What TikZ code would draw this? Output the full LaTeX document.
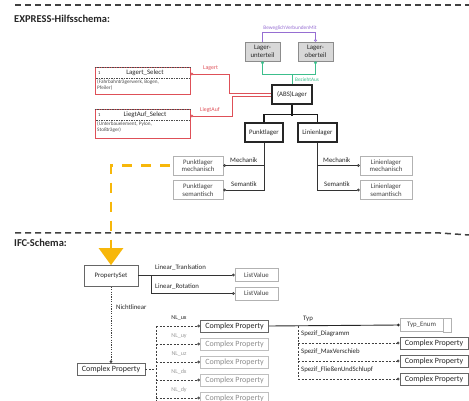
\documentclass[tikz,border=0pt]{standalone}
\usepackage{fontspec}
\setmainfont{Carlito}
\usetikzlibrary{arrows.meta}
\definecolor{redc}{RGB}{222,80,88}
\definecolor{violc}{RGB}{150,110,210}
\definecolor{grnc}{RGB}{60,190,140}
\definecolor{yelc}{RGB}{247,183,10}
\definecolor{boxgray}{RGB}{216,216,216}
\begin{document}
\begin{tikzpicture}[x=1pt,y=-1pt,
  every node/.style={font=\fontsize{6.8}{7.4}\selectfont, text=black!85, inner sep=1pt},
  sep/.style={line width=1.5pt, dash pattern=on 6pt off 4pt, black!75},
  circ/.style={-{Circle[open,length=2.8pt,width=2.8pt]}},
  conn/.style={line width=0.7pt, black!80},
  thickbox/.style={draw=black!85, line width=1.1pt, minimum height=19pt, align=center},
  lightbox/.style={draw=black!30, line width=0.5pt, minimum height=19pt, align=center, text=black!75},
  greybox/.style={draw=black!45, fill=boxgray, line width=0.6pt, minimum width=35pt, minimum height=19pt, align=center},
  cpbox/.style={draw=black!60, line width=0.9pt, minimum width=68pt, minimum height=12pt, font=\fontsize{8}{9}\selectfont},
  cpgray/.style={cpbox, draw=black!25, text=black!45},
  lvbox/.style={draw=black!30, line width=0.5pt, minimum width=43pt, minimum height=13pt, text=black!75},
  dsh/.style={line width=0.7pt, black!75, dash pattern=on 2pt off 1.5pt},
  lbl/.style={anchor=west, font=\fontsize{6.8}{7.4}\selectfont}
]
\useasboundingbox (0,0) rectangle (469,401);

% separators and titles
\draw[sep] (15,5) -- (469,5);
\draw[sep] (15,233) -- (440,233) -- (469,235);
\node[anchor=west, font=\bfseries\fontsize{10.5}{12}\selectfont] (t1) at (13,19) {EXPRESS-Hilfsschema:};
\node[anchor=west, font=\bfseries\fontsize{10.5}{12}\selectfont] (t2) at (13,243) {IFC-Schema:};

% upper boxes
\node[greybox] (lu) at (262.5,51.5) {Lager-\\unterteil};
\node[greybox] (lo) at (315.5,51.5) {Lager-\\oberteil};
\node[thickbox, minimum width=40pt] (abs) at (292,94.5) {(ABS)Lager};
\node[thickbox, minimum width=38pt] (pl) at (264,132.5) {Punktlager};
\node[thickbox, minimum width=39pt] (ll) at (317.5,132.5) {Linienlager};
\node[lightbox, minimum width=50pt] (plm) at (198,165.5) {Punktlager\\mechanisch};
\node[lightbox, minimum width=50pt] (pls) at (198,190) {Punktlager\\semantisch};
\node[lightbox, minimum width=52pt] (llm) at (386,165.5) {Linienlager\\mechanisch};
\node[lightbox, minimum width=52pt] (lls) at (386,190) {Linienlager\\semantisch};

% violet
\draw[violc, line width=0.6pt, circ] (lu.north) -- ++(0,-9) -| (lo.north);
\node[text=violc, font=\fontsize{5.3}{6}\selectfont] (bvm) at (290,28) {BeweglichVerbundenMit};
% green
\draw[grnc, line width=0.8pt, {Circle[open,length=2.8pt,width=2.8pt]}-{Circle[open,length=2.8pt,width=2.8pt]}] (lu.south) -- ++(0,13) -| (lo.south);
\draw[grnc, line width=0.8pt] (292,74) -- (abs.north);
\node[text=grnc, anchor=west, font=\fontsize{5.3}{6}\selectfont] (bza) at (294,80) {BeziehtAus};

% red select boxes
\node[draw=redc, line width=0.9pt, minimum width=95pt, minimum height=27pt] (ls) at (142.5,80.5) {};
\draw[black!70, line width=0.5pt, dash pattern=on 1.5pt off 1pt] ([yshift=-0.6pt]ls.north west) -- ([yshift=-0.6pt]ls.north east);
\node[anchor=west, font=\fontsize{4.5}{5}\selectfont] (ls1) at (97,73) {1};
\node[font=\fontsize{6.8}{7.4}\selectfont] (lst) at (145,73) {Lagert\_Select};
\draw[black!70, line width=0.5pt, dash pattern=on 1.5pt off 1pt] (96,78) -- (189,78);
\node[anchor=north west, align=left, font=\fontsize{5.2}{6}\selectfont, text=black!70] (lsx) at (96,79) {(Fahrbahnträgerwerk, Bogen,\\Pfeiler)};

\node[draw=redc, line width=0.9pt, minimum width=95pt, minimum height=29pt] (la) at (142.5,123.5) {};
\draw[black!70, line width=0.5pt, dash pattern=on 1.5pt off 1pt] ([yshift=-0.6pt]la.north west) -- ([yshift=-0.6pt]la.north east);
\node[anchor=west, font=\fontsize{4.5}{5}\selectfont] (la1) at (97,115) {1};
\node[font=\fontsize{6.8}{7.4}\selectfont] (lat) at (145,115) {LiegtAuf\_Select};
\draw[black!70, line width=0.5pt, dash pattern=on 1.5pt off 1pt] (96,120) -- (189,120);
\node[anchor=north west, align=left, font=\fontsize{5.2}{6}\selectfont, text=black!70] (lax) at (96,121) {(Unterbauelement, Pylon,\\Stoßträger)};

\draw[redc, line width=0.8pt, {Circle[open,length=2.8pt,width=2.8pt]}-] ([yshift=6.5pt]ls.east) -- ++(39,0) |- ([yshift=1.5pt]abs.west);
\draw[redc, line width=0.8pt, {Circle[open,length=2.8pt,width=2.8pt]}-] ([yshift=7.5pt]la.east) -- ++(42,0) |- ([yshift=-1.5pt]abs.west);
\node[text=redc, anchor=west, font=\fontsize{5.8}{6.4}\selectfont] (lgl) at (202,68) {Lagert};
\node[text=redc, anchor=west, font=\fontsize{5.8}{6.4}\selectfont] (lal) at (199,110) {LiegtAuf};

% black tree
\draw[black!90, line width=1.1pt] (abs.south) -- ++(0,11);
\draw[black!90, line width=1.1pt] (pl.north) -- ++(0,-8) -| (ll.north);
\draw[conn, circ] (pl.south) |- (pls.east);
\draw[conn, circ] (pl.south |- plm.east) -- (plm.east);
\draw[conn, circ] (ll.south) |- (lls.west);
\draw[conn, circ] (ll.south |- llm.west) -- (llm.west);
\node[lbl] (m1) at (229,160) {Mechanik};
\node[lbl] (s1) at (230,184) {Semantik};
\node[lbl] (m2) at (322,160) {Mechanik};
\node[lbl] (s2) at (323,184) {Semantik};

% IFC part
\node[draw=black!60, line width=0.7pt, minimum width=54pt, minimum height=21pt] (ps) at (111,276) {PropertySet};
\draw[yelc, line width=2.6pt, dash pattern=on 10pt off 9pt, -{Triangle[length=17pt,width=24pt]}] ([xshift=-3pt]plm.west) -| (ps.north);

\node[lvbox] (lv1) at (256.5,275) {ListValue};
\node[lvbox] (lv2) at (256.5,293.5) {ListValue};
\draw[conn, circ] (ps.east |- lv1.west) -- (lv1.west);
\draw[conn, circ] (151,275) |- (lv2.west);
\node[lbl] (lt) at (154,268) {Linear\_Tranlsation};
\node[lbl] (lr) at (154,287) {Linear\_Rotation};

\node[cpbox] (cpl) at (111,369.5) {Complex Property};
\draw[line width=0.9pt, black!75, dash pattern=on 1.2pt off 1.2pt, circ] (ps.south) -- (cpl.north);
\node[lbl] (nl) at (115,307) {Nichtlinear};

\node[cpbox] (n1) at (234.5,326) {Complex Property};
\node[cpgray] (n2) at (234.5,344) {Complex Property};
\node[cpgray] (n3) at (234.5,362) {Complex Property};
\node[cpgray] (n4) at (234.5,380) {Complex Property};
\node[cpgray] (n5) at (234.5,398) {Complex Property};
\draw[dsh] (cpl.east) -- (156,369.5);
\draw[dsh] (156,326) -- (156,401);
\draw[dsh, circ] (156,326) -- (n1.west);
\draw[dsh, circ] (156,344) -- (n2.west);
\draw[dsh, circ] (156,362) -- (n3.west);
\draw[dsh, circ] (156,380) -- (n4.west);
\draw[dsh, circ] (156,398) -- (n5.west);
\node[font=\fontsize{6}{6.5}\selectfont] (l1) at (179,318) {NL\_ux};
\node[font=\fontsize{6}{6.5}\selectfont, text=black!40] (l2) at (179,336) {NL\_uy};
\node[font=\fontsize{6}{6.5}\selectfont, text=black!40] (l3) at (179,354) {NL\_uz};
\node[font=\fontsize{6}{6.5}\selectfont, text=black!40] (l4) at (179,372) {NL\_dx};
\node[font=\fontsize{6}{6.5}\selectfont, text=black!40] (l5) at (179,390) {NL\_dy};

\node[lvbox, minimum width=43pt] (te) at (421.5,325) {Typ\_Enum};
\draw[black!30, line width=0.5pt] (te.north east) rectangle ([xshift=8pt]te.south east);
\draw[line width=0.9pt, black!85, circ] (n1.east) -- (te.west);
\node[lbl] (typ) at (302,319) {Typ};

\node[cpbox] (c1) at (434,343) {Complex Property};
\node[cpbox] (c2) at (434,361) {Complex Property};
\node[cpbox] (c3) at (434,379) {Complex Property};
\draw[dsh] (298,326) -- (298,379);
\draw[dsh, circ] (298,343) -- (c1.west);
\draw[dsh, circ] (298,361) -- (c2.west);
\draw[dsh, circ] (298,379) -- (c3.west);
\node[lbl] (sd) at (300,334) {Spezif\_Diagramm};
\node[lbl] (sm) at (300,352) {Spezif\_MaxVerschieb};
\node[lbl] (sf) at (300,370) {Spezif\_FließenUndSchlupf};
\end{tikzpicture}
\end{document}
